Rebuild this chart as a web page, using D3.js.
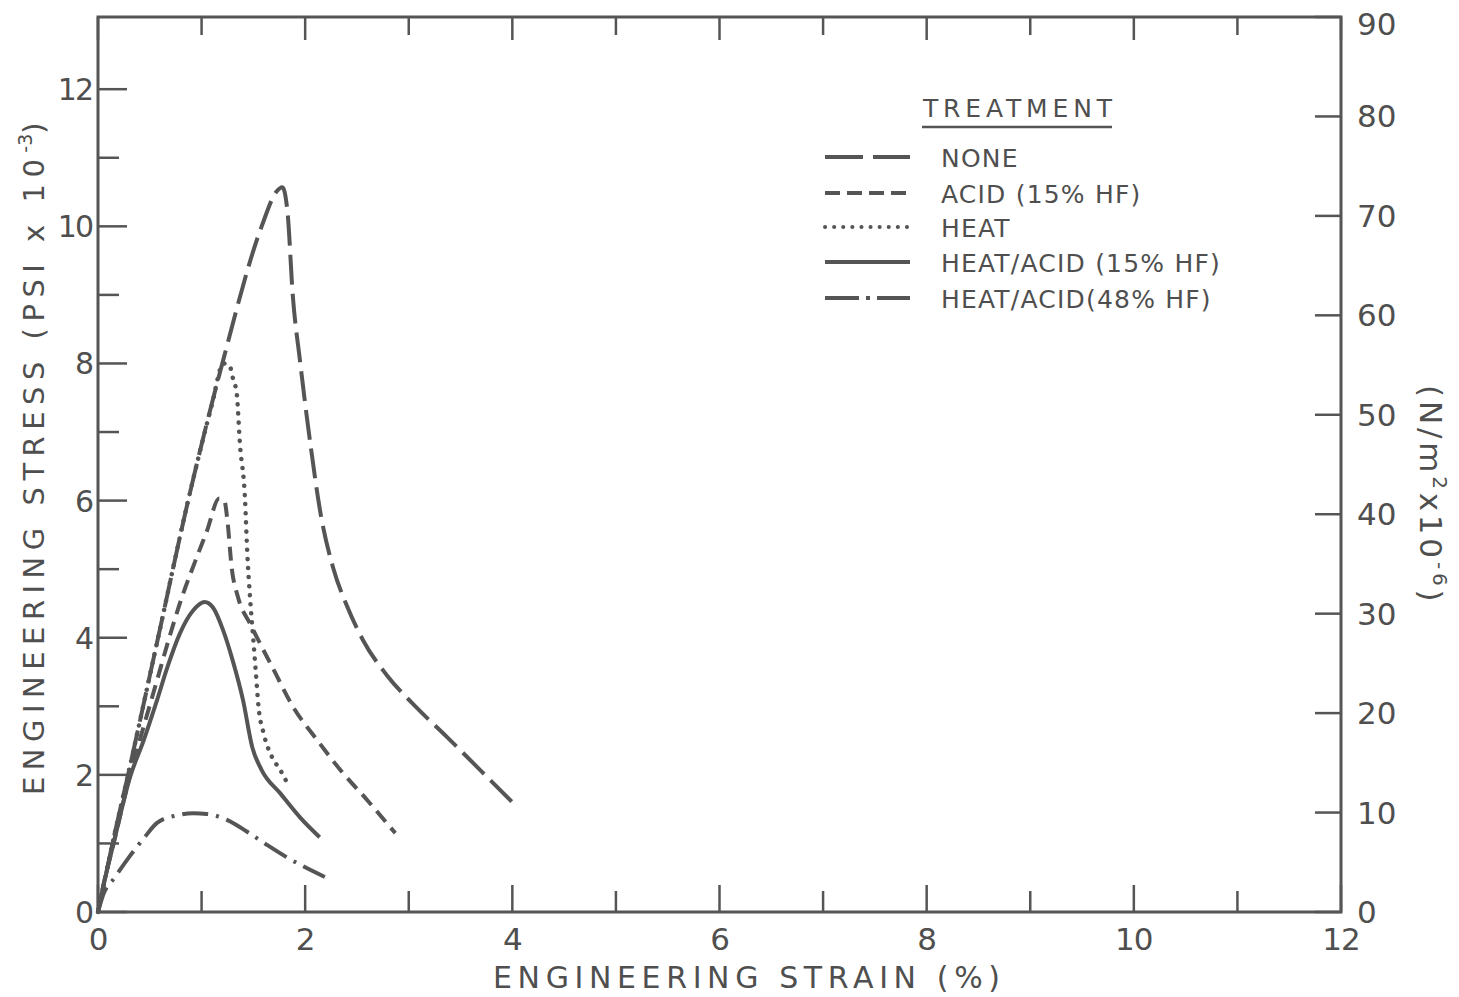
<!DOCTYPE html>
<html><head><meta charset="utf-8">
<script src="https://cdn.jsdelivr.net/npm/d3@7"></script>
<style>body{margin:0;background:#fff}svg{display:block}text{font-family:"DejaVu Sans",sans-serif;fill:#4f4f4f}</style>
</head><body>
<svg id="c" width="1459" height="997"></svg>
<script>
// ---- data ----
const xTicks = [0,1,2,3,4,5,6,7,8,9,10,11,12];
const xTickLabels = ["0","2","4","6","8","10","12"];
const yTicks = [0,1,2,3,4,5,6,7,8,9,10,11,12];
const yTickLabels = ["0","2","4","6","8","10","12"];
const y2Ticks = [0,10,20,30,40,50,60,70,80,90];

const seriesNames = ["NONE","ACID (15% HF)","HEAT","HEAT/ACID (15% HF)","HEAT/ACID(48% HF)"];

const strainNone = [0,0.07,0.14,0.29,0.58,0.87,1.2,1.58,1.72,1.78,1.83,1.88,1.95,2.05,2.15,2.27,2.41,2.56,2.79,3.05,3.37,3.69,4.0];
const stressNone = [0,0.5,1.0,2.0,4.0,6.0,8.0,10.0,10.5,10.57,10.2,9.0,8.04,6.83,5.8,5.02,4.44,3.96,3.45,3.02,2.55,2.07,1.6];

const strainAcid = [0,0.06,0.15,0.31,0.44,0.57,0.68,0.79,0.96,1.05,1.17,1.22,1.25,1.29,1.35,1.47,1.57,1.69,1.88,2.12,2.34,2.6,2.87];
const stressAcid = [0,0.45,1.0,2.0,2.7,3.38,3.96,4.5,5.2,5.55,6.03,6.0,5.7,5.03,4.6,4.2,3.9,3.55,3.0,2.5,2.07,1.63,1.15];

const strainHeat = [0,0.07,0.14,0.29,0.58,0.87,1.1,1.21,1.27,1.3,1.34,1.37,1.42,1.44,1.47,1.5,1.52,1.55,1.6,1.68,1.76,1.82];
const stressHeat = [0,0.5,1.0,2.0,4.0,6.0,7.4,8.0,7.97,7.8,7.55,6.83,6.0,5.27,4.54,3.96,3.57,2.99,2.6,2.26,2.07,1.9];

const strainHA15 = [0,0.07,0.15,0.31,0.44,0.57,0.67,0.79,0.92,1.03,1.11,1.21,1.3,1.4,1.49,1.58,1.76,1.95,2.14];
const stressHA15 = [0,0.5,1.0,1.97,2.5,3.09,3.57,4.06,4.4,4.52,4.44,4.1,3.67,3.09,2.4,2.07,1.73,1.38,1.09];

const strainHA48 = [0,0.05,0.16,0.3,0.45,0.57,0.76,0.92,1.05,1.25,1.44,1.63,1.82,2.19];
const stressHA48 = [0,0.25,0.5,0.8,1.09,1.3,1.41,1.44,1.43,1.34,1.17,0.98,0.8,0.51];

// ---- chart ----
const svg = d3.select("#c");
const ink = "#555";
const L = 98, R = 1341, T = 17, B = 912;
const x = d3.scaleLinear().domain([0,12]).range([L,R]);
const y = d3.scaleLinear().domain([0,90/6.895]).range([B,T]);
const y2 = d3.scaleLinear().domain([0,90]).range([B,T]);

// frame
svg.append("rect").attr("x",L).attr("y",T).attr("width",R-L).attr("height",B-T)
  .attr("fill","none").attr("stroke",ink).attr("stroke-width",3);

// ticks
const g = svg.append("g").attr("stroke",ink).attr("stroke-width",2.5);
xTicks.forEach(v=>{
  const maj = v%2===0, len = maj?27:21, lenT = maj?23:18;
  g.append("line").attr("x1",x(v)).attr("x2",x(v)).attr("y1",B).attr("y2",B-len);
  g.append("line").attr("x1",x(v)).attr("x2",x(v)).attr("y1",T).attr("y2",T+lenT);
});
yTicks.forEach(v=>{
  const len = v%2===0?29:21;
  g.append("line").attr("x1",L).attr("x2",L+len).attr("y1",y(v)).attr("y2",y(v));
});
y2Ticks.forEach(v=>{
  g.append("line").attr("x1",R).attr("x2",R-26).attr("y1",y2(v)).attr("y2",y2(v));
});

// tick labels
xTickLabels.forEach(s=>{
  svg.append("text").attr("x",x(+s)).attr("y",950).attr("text-anchor","middle")
    .attr("font-size",31).attr("letter-spacing",-1).text(s);
});
yTickLabels.forEach(s=>{
  svg.append("text").attr("x",92).attr("y",y(+s)+11).attr("text-anchor","end")
    .attr("font-size",30).attr("letter-spacing",-2).text(s);
});
y2Ticks.forEach(v=>{
  svg.append("text").attr("x",1357).attr("y",Math.max(y2(v)+11,35)).attr("text-anchor","start")
    .attr("font-size",31).text(v);
});

// axis titles
svg.append("text").attr("x",493).attr("y",988).attr("font-size",30)
  .attr("textLength",507).attr("lengthAdjust","spacing").text("ENGINEERING STRAIN (%)");

const yt = svg.append("text").attr("transform","translate(44,795) rotate(-90)")
  .attr("font-size",29).attr("letter-spacing",6.5);
yt.append("tspan").text("ENGINEERING STRESS (PSI x 10");
yt.append("tspan").attr("dy",-12).attr("font-size",19).attr("letter-spacing",0).text("-3");
yt.append("tspan").attr("dy",12).text(")");

const rt = svg.append("text").attr("transform","translate(1420,385) rotate(90)")
  .attr("font-size",31).attr("letter-spacing",3.8);
rt.append("tspan").text("(N/m");
rt.append("tspan").attr("dy",-13).attr("font-size",20).text("2");
rt.append("tspan").attr("dy",13).text("x10");
rt.append("tspan").attr("dy",-13).attr("font-size",20).text("-6");
rt.append("tspan").attr("dy",13).text(")");

// curves
const line = d3.line().x(d=>x(d[0])).y(d=>y(d[1])).curve(d3.curveMonotoneX);
const styles = [
  {dash:"30,9", cap:"butt", w:4},
  {dash:"14,8", cap:"butt", w:4},
  {dash:"0.1,9", cap:"round", w:4.5},
  {dash:null, cap:"butt", w:4},
  {dash:"26,8,3,8", cap:"butt", w:4}
];
const series = [
  d3.zip(strainNone, stressNone),
  d3.zip(strainAcid, stressAcid),
  d3.zip(strainHeat, stressHeat),
  d3.zip(strainHA15, stressHA15),
  d3.zip(strainHA48, stressHA48)
];
series.forEach((pts,i)=>{
  const p = svg.append("path").attr("d",line(pts)).attr("fill","none")
    .attr("stroke",ink).attr("stroke-width",styles[i].w).attr("stroke-linecap",styles[i].cap)
    .attr("stroke-linejoin","round");
  if (styles[i].dash) p.attr("stroke-dasharray",styles[i].dash);
});

// legend
svg.append("text").attr("x",923).attr("y",117).attr("font-size",25)
  .attr("textLength",189).attr("lengthAdjust","spacing").text("TREATMENT");
svg.append("line").attr("x1",922).attr("x2",1112).attr("y1",127).attr("y2",127)
  .attr("stroke",ink).attr("stroke-width",2.5);
const legY = [157,193,227,262,298];
const legStyles = [
  {dash:"38,10", cap:"butt"},
  {dash:"15,7", cap:"butt"},
  {dash:"0.1,9", cap:"round"},
  {dash:null, cap:"butt"},
  {dash:"34,7,4,7", cap:"butt"}
];
seriesNames.forEach((n,i)=>{
  const ln = svg.append("line").attr("x1",825).attr("x2",910).attr("y1",legY[i]).attr("y2",legY[i])
    .attr("stroke",ink).attr("stroke-width",4).attr("stroke-linecap",legStyles[i].cap);
  if (legStyles[i].dash) ln.attr("stroke-dasharray",legStyles[i].dash);
  svg.append("text").attr("x",941).attr("y",legY[i]+10).attr("font-size",25)
    .attr("letter-spacing",1.2).text(n);
});
</script>
</body></html>
